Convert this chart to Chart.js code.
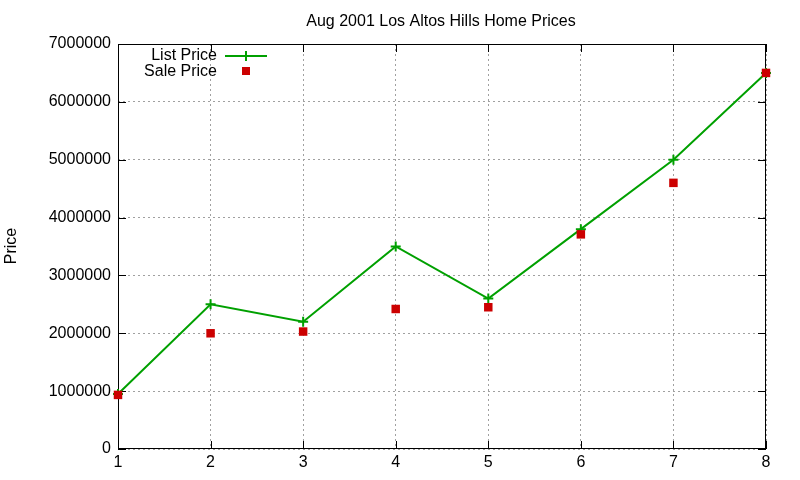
<!DOCTYPE html>
<html><head><meta charset="utf-8">
<script src="https://cdn.jsdelivr.net/npm/chart.js@4/dist/chart.umd.min.js"></script>
<style>html,body{margin:0;padding:0;background:#fff;}canvas{display:block;}</style>
</head><body>
<canvas id="c" width="800" height="480"></canvas>
<script>
const titleText = "Aug 2001 Los Altos Hills Home Prices";
const yLabel = "Price";
const xValues = [1, 2, 3, 4, 5, 6, 7, 8];
const listPrice = [950000, 2500000, 2200000, 3500000, 2600000, 3800000, 5000000, 6500000];
const salePrice = [935000, 2000000, 2030000, 2420000, 2450000, 3710000, 4600000, 6500000];
const seriesNames = ["List Price", "Sale Price"];

const FONT = "'Liberation Sans', Arial, sans-serif";
const GREEN = "#00a000", RED = "#cc0000";

const decor = {
  id: 'decor',
  beforeDatasetsDraw(chart) {
    const {ctx, chartArea: a, scales} = chart;
    ctx.save();
    ctx.strokeStyle = '#000'; ctx.lineWidth = 1; ctx.setLineDash([]);
    ctx.strokeRect(a.left + 0.5, a.top + 0.5, a.right - a.left - 1, a.bottom - a.top - 1);
    ctx.beginPath();
    scales.y.ticks.forEach(t => {
      const y = Math.round(scales.y.getPixelForValue(t.value)) + 0.5;
      ctx.moveTo(a.left, y); ctx.lineTo(a.left + 8, y);
      ctx.moveTo(a.right, y); ctx.lineTo(a.right - 8, y);
    });
    scales.x.ticks.forEach(t => {
      const x = Math.round(scales.x.getPixelForValue(t.value)) + 0.5;
      ctx.moveTo(x, a.bottom); ctx.lineTo(x, a.bottom - 8);
      ctx.moveTo(x, a.top); ctx.lineTo(x, a.top + 8);
    });
    ctx.stroke();
    ctx.restore();
  },
  afterDraw(chart) {
    const {ctx} = chart;
    ctx.save();
    ctx.fillStyle = '#000';
    ctx.font = "16px " + FONT;
    ctx.textAlign = 'center'; ctx.textBaseline = 'middle';
    ctx.fillText(titleText, 441, 22);
    ctx.save();
    ctx.translate(12, 246); ctx.rotate(-Math.PI / 2);
    ctx.fillText(yLabel, 0, 0);
    ctx.restore();
    ctx.textAlign = 'right';
    const ds = chart.data.datasets;
    ctx.fillText(ds[0].label, 217, 56);
    ctx.fillText(ds[1].label, 217, 72);
    ctx.strokeStyle = GREEN; ctx.lineWidth = 2;
    ctx.beginPath(); ctx.moveTo(225, 56); ctx.lineTo(267, 56);
    ctx.moveTo(246, 51); ctx.lineTo(246, 61); ctx.stroke();
    ctx.fillStyle = RED; ctx.fillRect(242, 67, 8, 8);
    ctx.restore();
  }
};

new Chart(document.getElementById('c'), {
  type: 'line',
  data: {
    datasets: [
      { label: seriesNames[0], data: xValues.map((x, i) => ({x, y: listPrice[i]})), order: 1,
        borderColor: GREEN, backgroundColor: GREEN, borderWidth: 2, clip: false,
        pointStyle: 'cross', pointRadius: 5, pointBorderWidth: 2, tension: 0, fill: false },
      { label: seriesNames[1], data: xValues.map((x, i) => ({x, y: salePrice[i]})), order: 0,
        showLine: false, borderColor: RED, backgroundColor: RED, clip: false,
        pointStyle: 'rect', pointRadius: 6, pointBorderWidth: 0 }
    ]
  },
  options: {
    responsive: false, animation: false,
    layout: { padding: { top: 44, right: 34, left: 0, bottom: 0 } },
    plugins: { legend: { display: false }, title: { display: false }, tooltip: { enabled: false } },
    scales: {
      x: {
        type: 'linear', min: 1, max: 8,
        ticks: { stepSize: 1, color: '#000', font: { size: 16, family: FONT }, padding: 4 },
        grid: { color: '#a0a0a0', lineWidth: 1, drawTicks: false, tickLength: 0 },
        border: { display: false, dash: [2, 3] },
        afterFit(s) { s.height = 31; }
      },
      y: {
        min: 0, max: 7000000,
        ticks: { stepSize: 1000000, color: '#000', font: { size: 16, family: FONT }, padding: 7,
                 callback: v => String(v) },
        grid: { color: '#a0a0a0', lineWidth: 1, drawTicks: false, tickLength: 0 },
        border: { display: false, dash: [2, 3] },
        afterFit(s) { s.width = 118; }
      }
    }
  },
  plugins: [decor]
});
</script>
</body></html>
